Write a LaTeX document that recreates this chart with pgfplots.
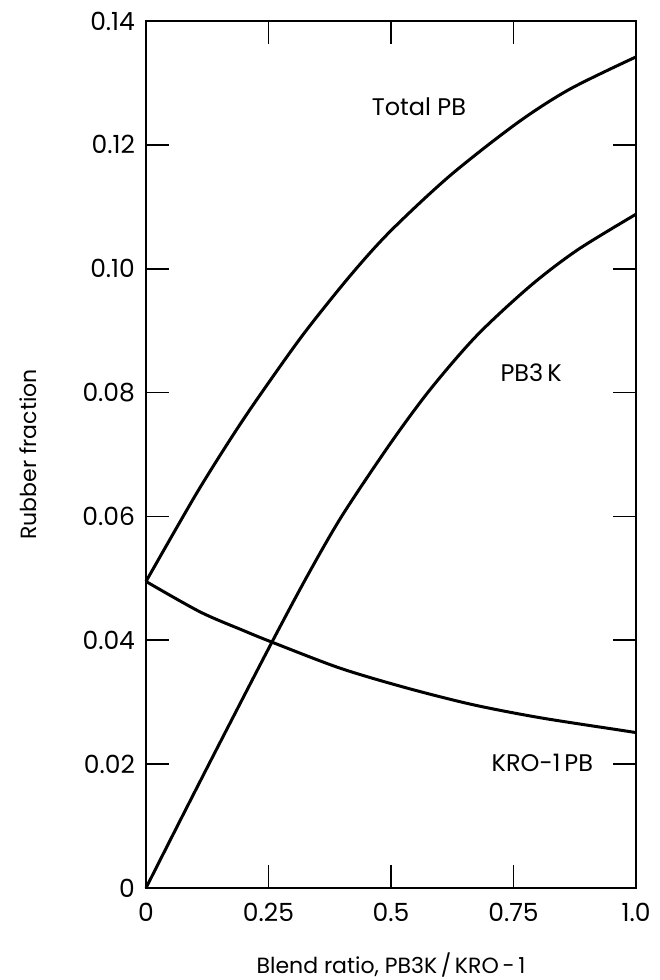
\documentclass[border=0pt]{standalone}
\usepackage{fontspec}
\setmainfont{Poppins}
\usepackage{pgfplots}
\pgfplotsset{compat=1.18}

\begin{document}
\begin{tikzpicture}
\begin{axis}[name=ax, scale only axis, width=245pt, height=433.5pt,
  xmin=0, xmax=1, ymin=0, ymax=0.14,
  xtick={0,0.25,0.5,0.75,1}, xticklabels={0,0.25,0.5,0.75,1.0},
  ytick={0,0.02,0.04,0.06,0.08,0.10,0.12,0.14},
  yticklabels={0,0.02,0.04,0.06,0.08,0.10,0.12,0.14},
  tick align=inside, major tick length=11.5pt,
  tick style={line width=0.9pt, black},
  axis line style={line width=1.3pt},
  tick label style={font=\fontsize{12.5}{15}\selectfont},
  xticklabel style={yshift=-4pt},
  yticklabel style={xshift=-2pt},
  xlabel={Blend ratio, PB3K\,/\,KRO\,-\,1},
  ylabel={Rubber fraction},
  every axis x label/.style={at={(rel axis cs:0.5,0)}, anchor=center, yshift=-38.5pt,
    font=\fontsize{11}{13}\selectfont},
  every axis y label/.style={at={(rel axis cs:0,0.5)}, anchor=center, xshift=-59pt,
    rotate=90, font=\fontsize{11}{13}\selectfont},
  clip=false]
% Total PB
\addplot[smooth, line width=1.5pt, black] coordinates {
  (0,0.0495) (0.10,0.0633) (0.17,0.0722) (0.2265,0.0789) (0.320,0.0893)
  (0.416,0.0988) (0.498,0.1060) (0.620,0.1150) (0.757,0.1235) (0.865,0.1290) (1,0.1342)};
% PB3K
\addplot[smooth, line width=1.5pt, black] coordinates {
  (0,0) (0.08,0.0125) (0.157,0.0244) (0.257,0.0397) (0.33,0.0505) (0.40,0.0601)
  (0.498,0.0717) (0.580,0.0805) (0.675,0.0892) (0.784,0.0972) (0.880,0.1030) (1,0.1088)};
% KRO-1 PB
\addplot[smooth, line width=1.5pt, black] coordinates {
  (0,0.0495) (0.110,0.0446) (0.198,0.0416) (0.257,0.0397) (0.396,0.0355) (0.532,0.0323)
  (0.667,0.0296) (0.804,0.0275) (0.967,0.0255) (1,0.0251)};
\node[font=\fontsize{12}{14}\selectfont] at (axis cs:0.557,0.1262) {Total PB};
\node[font=\fontsize{12}{14}\selectfont] at (axis cs:0.786,0.0832) {PB3\,K};
\node[font=\fontsize{12}{14}\selectfont] at (axis cs:0.809,0.0202) {KRO-1\,PB};
\end{axis}
\pgfresetboundingbox
\path ([xshift=-73pt,yshift=-46pt]ax.south west) rectangle ([xshift=11.5pt,yshift=10.5pt]ax.north east);
\end{tikzpicture}
\end{document}
